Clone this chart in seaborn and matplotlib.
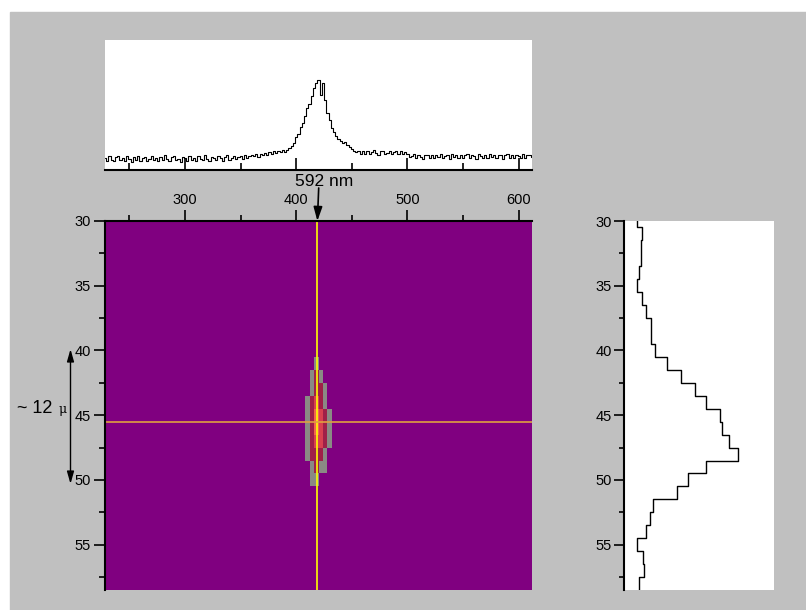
"""Spectre + carte CCD du spot à 592 nm, avec profils horizontal (haut) et vertical (droite)."""
import numpy as np
import matplotlib
matplotlib.use("Agg")
import matplotlib.pyplot as plt
from matplotlib.colors import ListedColormap
from matplotlib.patches import Rectangle
import seaborn as sns

# --- valeurs ---
WL_START, WL_STEP = 228, 2          # axe x du spectre (mêmes unités que la carte)
spectrum = [
    120, 92, 138, 104, 86, 132, 145, 98, 118, 88,
    136, 110, 84, 126, 100, 142, 94, 116, 130, 86,
    108, 140, 96, 124, 88, 134, 102, 146, 112, 90,
    128, 138, 96, 108, 84, 132, 118, 92, 144, 104,
    122, 88, 136, 112, 96, 148, 106, 90, 134, 116,
    98, 140, 124, 92, 130, 146, 104, 118, 138, 110,
    126, 144, 112, 148, 120, 138, 150,
    136, 158, 132, 165, 146, 172, 150, 180, 162,
    186, 170, 192, 176, 198, 184, 205,
    225, 245, 270, 330, 365, 430, 470, 545, 620, 665,
    740, 820, 870, 900, 750, 870, 700, 570, 500, 420,
    385, 340, 310, 295, 270, 280, 250, 235, 215, 195, 182,
    186, 160, 192, 165, 188, 158, 182, 196, 166, 152, 186,
    194, 160, 172, 190, 156, 178, 188, 164, 192, 158, 176,
    158, 132, 145, 160, 118, 150, 128, 112, 146, 155,
    124, 148, 116, 152, 130, 162, 118, 140, 150, 114,
    156, 126, 148, 116, 154, 124, 146, 160, 118, 150,
    138, 112, 156, 142, 120, 152, 116, 158, 130, 150,
    118, 146, 154, 114, 148, 160, 122, 150, 116, 152,
    140, 120, 156, 118, 148, 154, 134,
]

MAP_X0, MAP_COL_W, MAP_NCOLS = 228, 4, 96     # colonnes de la carte
MAP_ROW0, MAP_NROWS = 30, 29                  # lignes centrées sur 30..58
spot_row0, spot_col0 = 41, 44
spot = [
    [0, 0, 0, 1, 0, 0, 0, 0],
    [0, 0, 1, 2, 1, 0, 0, 0],
    [0, 0, 1, 2, 2, 1, 0, 0],
    [0, 1, 2, 3, 2, 1, 0, 0],
    [0, 1, 2, 4, 3, 2, 1, 0],
    [0, 1, 2, 4, 3, 2, 1, 0],
    [0, 1, 2, 3, 3, 2, 1, 0],
    [0, 1, 2, 2, 2, 1, 0, 0],
    [0, 0, 1, 2, 1, 1, 0, 0],
    [0, 0, 1, 1, 0, 0, 0, 0],
]
spot_colors = ["#800080", "#8a8a84", "#a02048", "#d84050", "#f06450"]

profile_rows = list(range(30, 59))
profile = [89, 122, 111, 111, 100, 89, 120, 144, 182, 182,
           209, 289, 378, 471, 547, 640, 653, 698, 760, 547,
           427, 356, 193, 173, 144, 89, 127, 136, 102]

cursor_x, cursor_y = 419, 45.5
x_major, x_minor = [300, 400, 500, 600], [250, 350, 450, 550]
y_major, y_minor = [30, 35, 40, 45, 50, 55], [32.5, 37.5, 42.5, 47.5, 52.5, 57.5]
peak_label = "592 nm"

W, H = 806, 610
GRIS = "#c0c0c0"


def col_pos(v):
    return (v - MAP_X0) / MAP_COL_W


def row_pos(v):
    return v - (MAP_ROW0 - 0.5)


sns.set_style("white")
plt.rcParams["font.family"] = ["Liberation Sans", "DejaVu Sans"]
plt.rcParams["font.size"] = 10.5
plt.rcParams["text.color"] = "black"
plt.rcParams["xtick.color"] = "black"
plt.rcParams["ytick.color"] = "black"
plt.rcParams["xtick.labelcolor"] = "black"
plt.rcParams["ytick.labelcolor"] = "black"

fig = plt.figure(figsize=(W / 100, H / 100), dpi=100)
fig.patch.set_facecolor("white")
fig.add_artist(Rectangle((10 / W, 0), 1, 1 - 12 / H, transform=fig.transFigure,
                         color=GRIS, zorder=-10))

ax_top = fig.add_axes([105 / W, 1 - 170 / H, 427 / W, 130 / H])
ax_map = fig.add_axes([105 / W, 1 - 590 / H, 427 / W, 369 / H])
ax_prof = fig.add_axes([624 / W, 1 - 590 / H, 150 / W, 369 / H])

# --- spectre ---
wl = WL_START + WL_STEP * np.arange(len(spectrum))
sns.lineplot(x=wl, y=spectrum, ax=ax_top, color="black", lw=0.8,
             drawstyle="steps-mid", estimator=None)
ax_top.set_xlim(MAP_X0, MAP_X0 + MAP_COL_W * MAP_NCOLS)
ax_top.set_ylim(0, 1300)
ax_top.set_facecolor("white")
for s in ("left", "top", "right"):
    ax_top.spines[s].set_visible(False)
ax_top.spines["bottom"].set_linewidth(1.5)
ax_top.spines["bottom"].set_color("black")
ax_top.set_xticks(x_major)
ax_top.set_xticks(x_minor, minor=True)
ax_top.set_yticks([])
ax_top.tick_params(axis="x", which="major", direction="in", length=9, width=1.2,
                   labelbottom=False, bottom=True)
ax_top.tick_params(axis="x", which="minor", direction="in", length=5, width=1.2,
                   bottom=True)
ax_top.set_xlabel("")
ax_top.set_ylabel("")

# --- carte ---
grid = np.zeros((MAP_NROWS, MAP_NCOLS))
r0, c0 = spot_row0 - MAP_ROW0, spot_col0
grid[r0:r0 + len(spot), c0:c0 + len(spot[0])] = spot
sns.heatmap(grid, ax=ax_map, cmap=ListedColormap(spot_colors), vmin=-0.5, vmax=4.5,
            cbar=False, xticklabels=False, yticklabels=False)
ax_map.set_xlim(0, MAP_NCOLS)
ax_map.set_ylim(row_pos(58.5), row_pos(30))
ax_map.axvline(col_pos(cursor_x), color="#ffff00", lw=1.2)
ax_map.axhline(row_pos(cursor_y), color="#e0a040", lw=1.2)
for s in ("top", "left"):
    ax_map.spines[s].set_visible(True)
    ax_map.spines[s].set_linewidth(1.5)
    ax_map.spines[s].set_color("black")
for s in ("bottom", "right"):
    ax_map.spines[s].set_visible(False)
ax_map.xaxis.tick_top()
ax_map.set_xticks([col_pos(v) for v in x_major])
ax_map.set_xticklabels([str(v) for v in x_major])
ax_map.set_xticks([col_pos(v) for v in x_minor], minor=True)
ax_map.set_yticks([row_pos(v) for v in y_major])
ax_map.set_yticklabels([str(v) for v in y_major], rotation=0)
ax_map.set_yticks([row_pos(v) for v in y_minor], minor=True)
ax_map.tick_params(axis="x", which="major", direction="out", length=8, width=1.2,
                   top=True, bottom=False, labeltop=True, labelbottom=False, pad=2)
ax_map.tick_params(axis="x", which="minor", direction="out", length=4, width=1.2,
                   top=True, bottom=False)
ax_map.tick_params(axis="y", which="major", direction="out", length=8, width=1.2,
                   left=True, labelleft=True, pad=2)
ax_map.tick_params(axis="y", which="minor", direction="out", length=4, width=1.2,
                   left=True)

# flèche 592 nm
ax_map.annotate("", xy=(col_pos(cursor_x), row_pos(30)), xycoords="data",
                xytext=(318.7 / W, 1 - 188 / H), textcoords="figure fraction",
                arrowprops=dict(arrowstyle="-|>,head_width=0.25,head_length=0.8",
                                color="black", lw=1.2, shrinkA=0, shrinkB=0),
                annotation_clip=False)
fig.text(324 / W, 1 - 181 / H, peak_label, ha="center", va="center", fontsize=12.5)

# double flèche ~12 µ
ax_map.annotate("", xy=(70.5 / W, row_pos(39.9)), xycoords=("figure fraction", "data"),
                xytext=(70.5 / W, row_pos(50.3)), textcoords=("figure fraction", "data"),
                arrowprops=dict(arrowstyle="<|-|>,head_width=0.2,head_length=0.7",
                                color="black", lw=1.0, shrinkA=0, shrinkB=0),
                annotation_clip=False)
fig.text(17 / W, 1 - 413 / H, "~ 12", ha="left", va="baseline", fontsize=13)
fig.text(59 / W, 1 - 413 / H, "\u03bc", ha="left", va="baseline", fontsize=9,
         family="DejaVu Serif")

# --- profil vertical ---
xs, ys = [], []
for r, v in zip(profile_rows, profile):
    xs += [v, v]
    ys += [r - 0.5, r + 0.5]
sns.lineplot(x=xs, y=ys, ax=ax_prof, color="black", lw=1.0, sort=False, estimator=None)
ax_prof.set_xlim(0, 1000)
ax_prof.set_ylim(58.5, 30)
ax_prof.set_facecolor("white")
for s in ("top", "right", "bottom"):
    ax_prof.spines[s].set_visible(False)
ax_prof.spines["left"].set_linewidth(1.5)
ax_prof.spines["left"].set_color("black")
ax_prof.set_xticks([])
ax_prof.set_yticks(y_major)
ax_prof.set_yticklabels([str(v) for v in y_major])
ax_prof.set_yticks(y_minor, minor=True)
ax_prof.tick_params(axis="y", which="major", direction="out", length=7, width=1.2,
                    left=True, pad=2)
ax_prof.tick_params(axis="y", which="minor", direction="out", length=3.5, width=1.2,
                    left=True)
ax_prof.set_xlabel("")
ax_prof.set_ylabel("")

fig.savefig("out.png", dpi=100, facecolor=fig.get_facecolor())
